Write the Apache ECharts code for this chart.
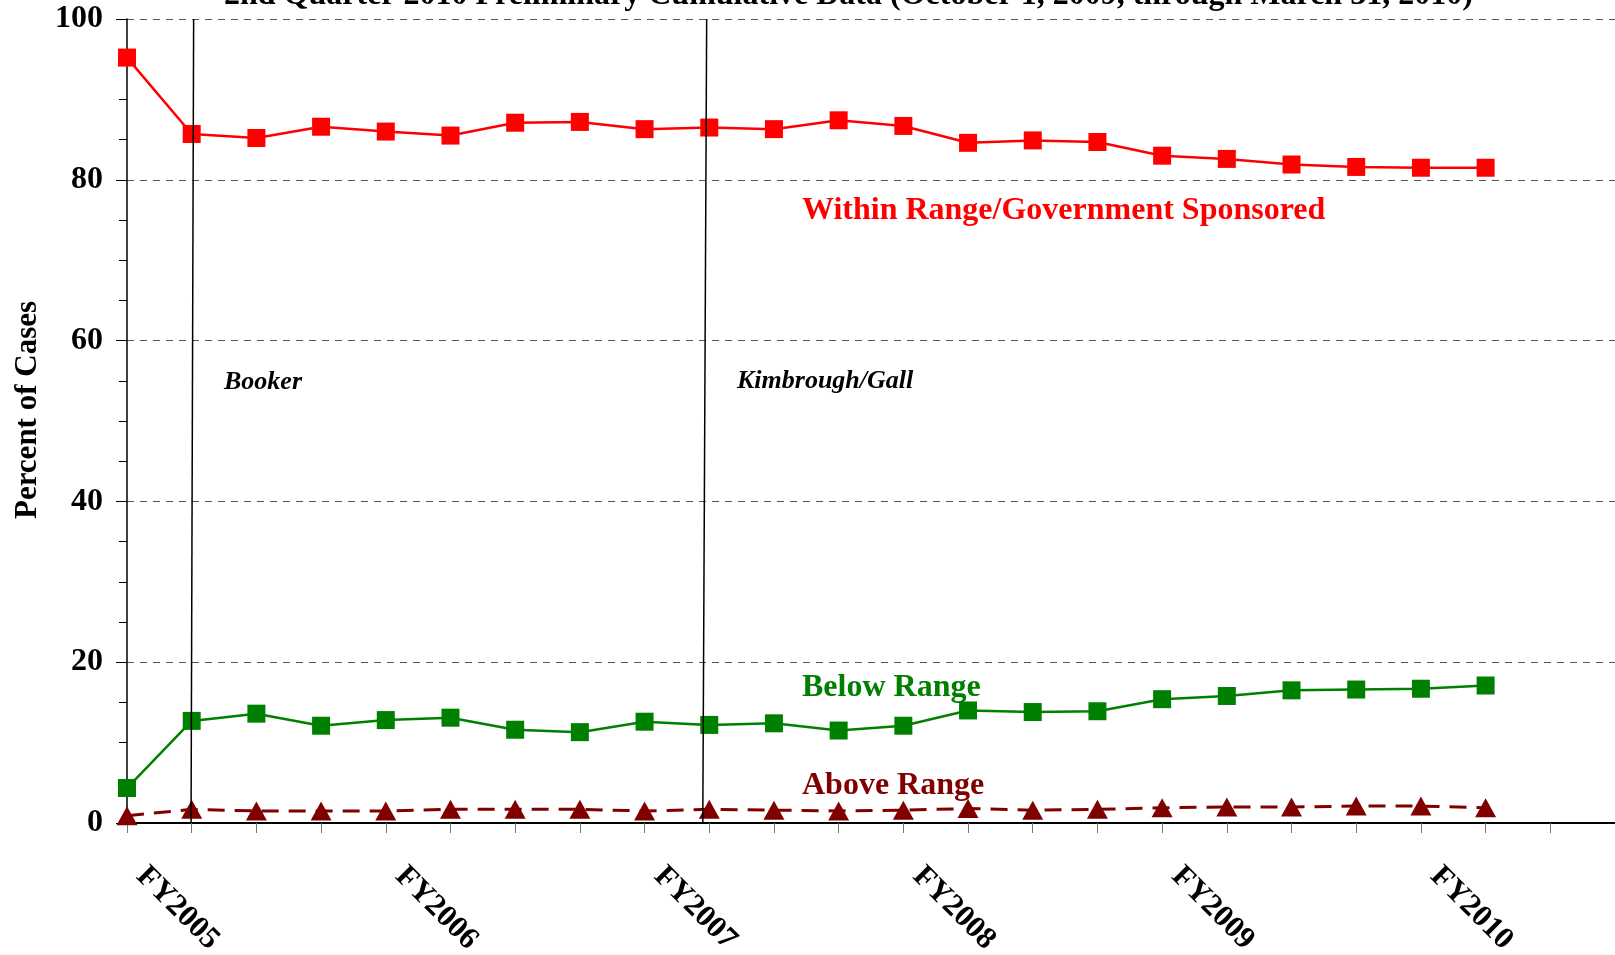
<!DOCTYPE html>
<html>
<head>
<meta charset="utf-8">
<script src="https://cdn.jsdelivr.net/npm/echarts@6/dist/echarts.min.js"></script>
<style>
    html, body { margin: 0; padding: 0; background: #fff; }
    #chart { width: 1615px; height: 955px; }
</style>
</head>
<body>
<div id="chart"></div>
<script>
    // quarterly points, FY label on the first quarter of each year
    const xTickLabels = ['', 'FY2005', '', '', '', 'FY2006', '', '', '', 'FY2007', '', '', '',
        'FY2008', '', '', '', 'FY2009', '', '', '', 'FY2010', '', ''];
    const yTicks = [0, 20, 40, 60, 80, 100];

    const withinRange = [95.2, 85.7, 85.2, 86.6, 86.0, 85.5, 87.1, 87.2, 86.3, 86.5, 86.3,
        87.4, 86.7, 84.6, 84.9, 84.7, 83.0, 82.6, 81.9, 81.6, 81.5, 81.5];
    const belowRange = [4.35, 12.7, 13.6, 12.1, 12.8, 13.1, 11.6, 11.3, 12.6, 12.2, 12.4,
        11.5, 12.1, 14.0, 13.8, 13.9, 15.4, 15.8, 16.5, 16.6, 16.7, 17.1];
    const aboveRange = [0.9, 1.7, 1.5, 1.5, 1.5, 1.7, 1.7, 1.7, 1.5, 1.7, 1.6,
        1.5, 1.6, 1.8, 1.6, 1.7, 1.9, 2.0, 2.0, 2.1, 2.1, 1.9];

    // court decisions, x position (in quarters) at the top and bottom of the line
    const eventLines = [
        { name: 'Booker', top: 1.03, bottom: 0.99 },
        { name: 'Kimbrough/Gall', top: 8.96, bottom: 8.90 }
    ];

    const font = '"Liberation Serif", "Times New Roman", serif';
    const pairs = arr => arr.map((v, i) => [i, v]);

    const chart = echarts.init(document.getElementById('chart'));

    const series = [
        {
            name: 'Within Range/Government Sponsored',
            type: 'line',
            data: pairs(withinRange),
            symbol: 'rect',
            symbolSize: 18,
            color: '#ff0000',
            lineStyle: { width: 2.5, color: '#ff0000' },
            z: 3
        },
        {
            name: 'Below Range',
            type: 'line',
            data: pairs(belowRange),
            symbol: 'rect',
            symbolSize: 18,
            color: '#008000',
            lineStyle: { width: 2.5, color: '#008000' },
            z: 3
        },
        {
            name: 'Above Range',
            type: 'line',
            data: pairs(aboveRange),
            symbol: 'triangle',
            symbolSize: [21, 19],
            color: '#800000',
            lineStyle: { width: 3, color: '#800000', type: [17, 10] },
            z: 3
        }
    ];
    eventLines.forEach(function (ev) {
        series.push({
            name: ev.name,
            type: 'line',
            data: [[ev.top, 100], [ev.bottom, 0]],
            showSymbol: false,
            symbol: 'none',
            lineStyle: { width: 1.5, color: '#000' },
            silent: true,
            z: 5
        });
    });

    const option = {
        animation: false,
        backgroundColor: '#fff',
        title: {
            text: '2nd Quarter 2010 Preliminary Cumulative Data (October 1, 2009, through March 31, 2010)',
            left: 224,
            top: -20,
            padding: 0,
            textStyle: { fontFamily: font, fontSize: 32, fontWeight: 'bold', color: '#000', lineHeight: 32 }
        },
        grid: { left: 127, right: 0, top: 19, bottom: 132, outerBoundsMode: 'none' },
        xAxis: {
            type: 'value',
            min: 0,
            max: xTickLabels.length - 1,
            interval: 1,
            axisLine: { lineStyle: { color: '#000', width: 2 } },
            axisTick: { length: 10, lineStyle: { color: '#777', width: 1 } },
            splitLine: { show: false },
            axisLabel: {
                formatter: v => xTickLabels[v] || '',
                rotate: -45,
                align: 'center',
                verticalAlign: 'top',
                lineHeight: 40,
                margin: 71,
                fontFamily: font,
                fontSize: 31,
                fontWeight: 'bold',
                color: '#000'
            }
        },
        yAxis: {
            type: 'value',
            min: yTicks[0],
            max: yTicks[yTicks.length - 1],
            interval: 20,
            name: 'Percent of Cases',
            nameLocation: 'middle',
            nameGap: 84,
            nameTextStyle: {
                fontFamily: font, fontSize: 31, fontWeight: 'bold', color: '#000',
                padding: [0, 0, 0, 22]
            },
            axisLine: { show: true, lineStyle: { color: '#000', width: 1.5 } },
            axisTick: { show: true, length: 11, lineStyle: { color: '#000' } },
            minorTick: { show: true, splitNumber: 4, length: 8, lineStyle: { color: '#000' } },
            splitLine: { show: true, lineStyle: { color: '#555', width: 1, type: [7, 6] } },
            axisLabel: {
                margin: 24,
                fontFamily: font,
                fontSize: 32,
                fontWeight: 'bold',
                color: '#000'
            }
        },
        graphic: [
            { type: 'text', left: 224, top: 369, style: { text: 'Booker', font: 'italic bold 26px ' + font, fill: '#000' } },
            { type: 'text', left: 737, top: 368, style: { text: 'Kimbrough/Gall', font: 'italic bold 26px ' + font, fill: '#000' } },
            { type: 'text', left: 802, top: 195, style: { text: 'Within Range/Government Sponsored', font: 'bold 32px ' + font, fill: '#ff0000' } },
            { type: 'text', left: 802, top: 672, style: { text: 'Below Range', font: 'bold 32px ' + font, fill: '#008000' } },
            { type: 'text', left: 802, top: 770, style: { text: 'Above Range', font: 'bold 32px ' + font, fill: '#800000' } }
        ],
        series: series
    };

    chart.setOption(option);
</script>
</body>
</html>
